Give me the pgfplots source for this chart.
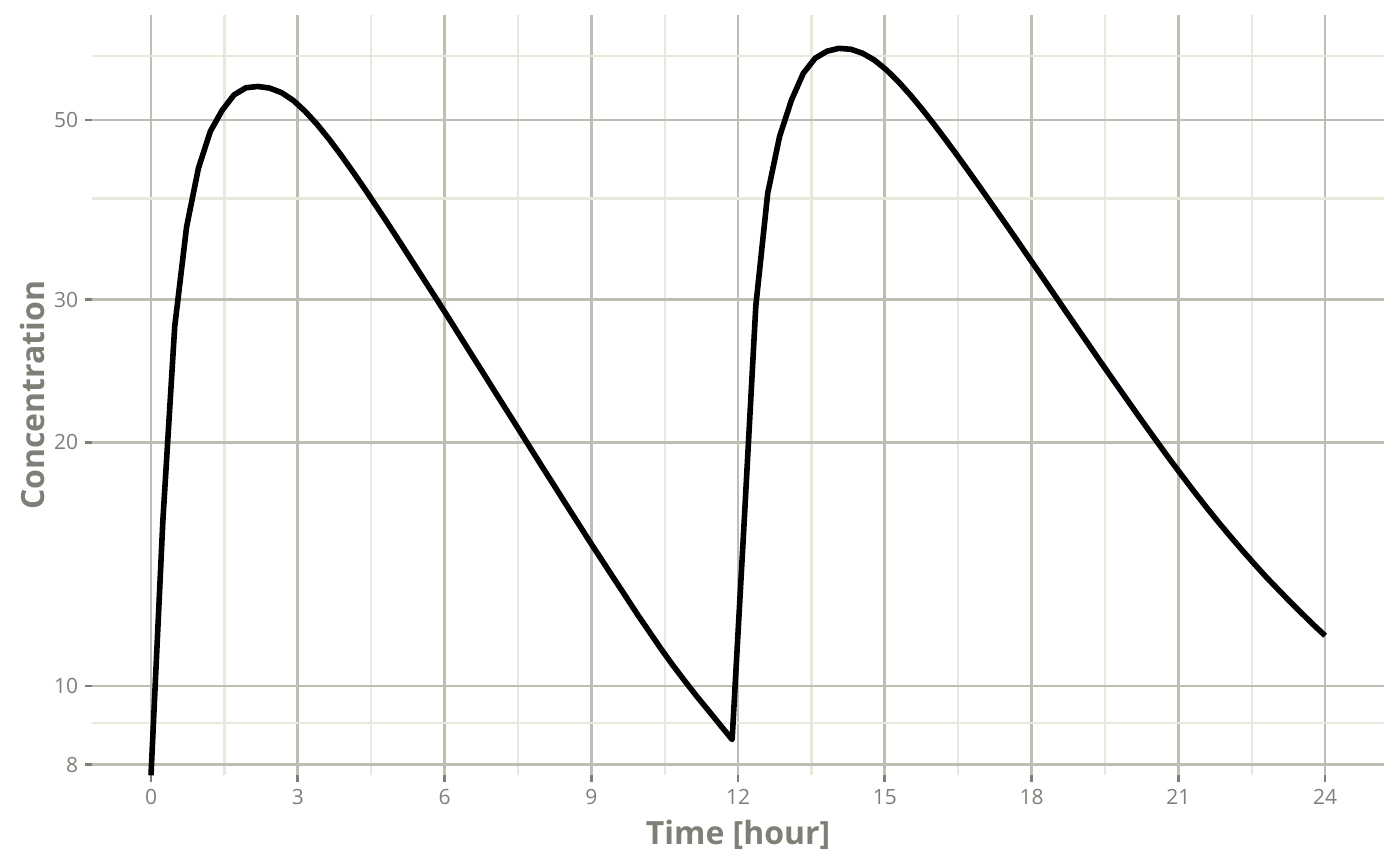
\documentclass[border=0pt]{standalone}
\usepackage{fontspec}
\setmainfont{Open Sans}
\usepackage{pgfplots}
\pgfplotsset{compat=1.18}

\definecolor{majgrid}{RGB}{190,190,178}
\definecolor{mingrid}{RGB}{232,232,219}
\definecolor{txtgray}{RGB}{127,127,119}

\begin{document}
\begin{tikzpicture}
\begin{axis}[
  scale only axis,
  width=645.75pt, height=380.25pt,
  xmin=-1.2, xmax=25.2,
  ymode=log, ymin=7.756, ymax=67.4,
  xtick={0,3,...,24},
  minor xtick={1.5,4.5,...,22.5},
  ytick={8,10,20,30,50},
  yticklabels={8,10,20,30,50},
  minor ytick={9,40,60},
  grid=both,
  major grid style={majgrid, line width=1.35pt},
  minor grid style={mingrid, line width=1.15pt},
  axis line style={draw=none},
  tick align=outside, tick pos=left,
  major tick length=3.5pt, minor tick length=0pt,
  major tick style={txtgray, line width=1.35pt},
  tick label style={font=\fontsize{10.5}{12}\selectfont, text=txtgray},
  /pgf/number format/assume math mode=true,
  xlabel={Time [hour]}, ylabel={Concentration},
  every axis x label/.style={at={(axis description cs:0.5,0)}, anchor=base, yshift=-34.75pt,
    font=\fontsize{16}{19}\selectfont\bfseries, text=txtgray},
  every axis y label/.style={at={([xshift=-23.65pt]axis description cs:0,0.5)}, rotate=90, anchor=base,
    font=\fontsize{16}{19}\selectfont\bfseries, text=txtgray},
]
% concentration, 100 time points from 0 to 24 h
\addplot[black, line width=2.8pt, line join=round] coordinates {
(0,7.76) (0.2424,16.0) (0.4848,27.8) (0.7273,36.9) (0.9697,43.6)
(1.2121,48.4) (1.4545,51.4) (1.6970,53.7) (1.9394,54.8) (2.1818,55.0)
(2.4242,54.75) (2.6667,54.05) (2.9091,52.86) (3.1515,51.24) (3.3939,49.39)
(3.6364,47.38) (3.8788,45.30) (4.1212,43.20) (4.3636,41.15) (4.6061,39.13)
(4.8485,37.19) (5.0909,35.31) (5.3333,33.50) (5.5758,31.79) (5.8182,30.17)
(6.0606,28.62) (6.3030,27.12) (6.5455,25.70) (6.7879,24.37) (7.0303,23.09)
(7.2727,21.89) (7.5152,20.75) (7.7576,19.67) (8.0000,18.64) (8.2424,17.68)
(8.4848,16.76) (8.7273,15.90) (8.9697,15.08) (9.2121,14.32) (9.4545,13.60)
(9.6970,12.92) (9.9394,12.27) (10.1818,11.68) (10.4242,11.12) (10.6667,10.61)
(10.9091,10.15) (11.1515,9.72) (11.3939,9.33) (11.6364,8.95) (11.8788,8.59)
(12.1212,15.8) (12.3636,29.5) (12.6061,40.6) (12.8485,47.7) (13.0909,52.9)
(13.3333,57.1) (13.5758,59.6) (13.8182,60.8) (14.0606,61.3) (14.3030,61.14)
(14.5455,60.45) (14.7879,59.28) (15.0303,57.67) (15.2727,55.79) (15.5152,53.74)
(15.7576,51.60) (16.0000,49.44) (16.2424,47.28) (16.4848,45.17) (16.7273,43.10)
(16.9697,41.10) (17.2121,39.17) (17.4545,37.33) (17.6970,35.56) (17.9394,33.85)
(18.1818,32.24) (18.4242,30.69) (18.6667,29.21) (18.9091,27.81) (19.1515,26.49)
(19.3939,25.22) (19.6364,24.03) (19.8788,22.90) (20.1212,21.83) (20.3636,20.82)
(20.6061,19.87) (20.8485,18.97) (21.0909,18.14) (21.3333,17.35) (21.5758,16.62)
(21.8182,15.94) (22.0606,15.31) (22.3030,14.72) (22.5455,14.17) (22.7879,13.65)
(23.0303,13.18) (23.2727,12.73) (23.5152,12.31) (23.7576,11.91) (24.0000,11.54)
};
\coordinate (SW) at (rel axis cs:0,0);
\coordinate (NE) at (rel axis cs:1,1);
\end{axis}
\pgfresetboundingbox
\path[use as bounding box] ([xshift=-46.15pt,yshift=-44.75pt]SW) rectangle ([xshift=8.1pt,yshift=7.5pt]NE);
\end{tikzpicture}
\end{document}
